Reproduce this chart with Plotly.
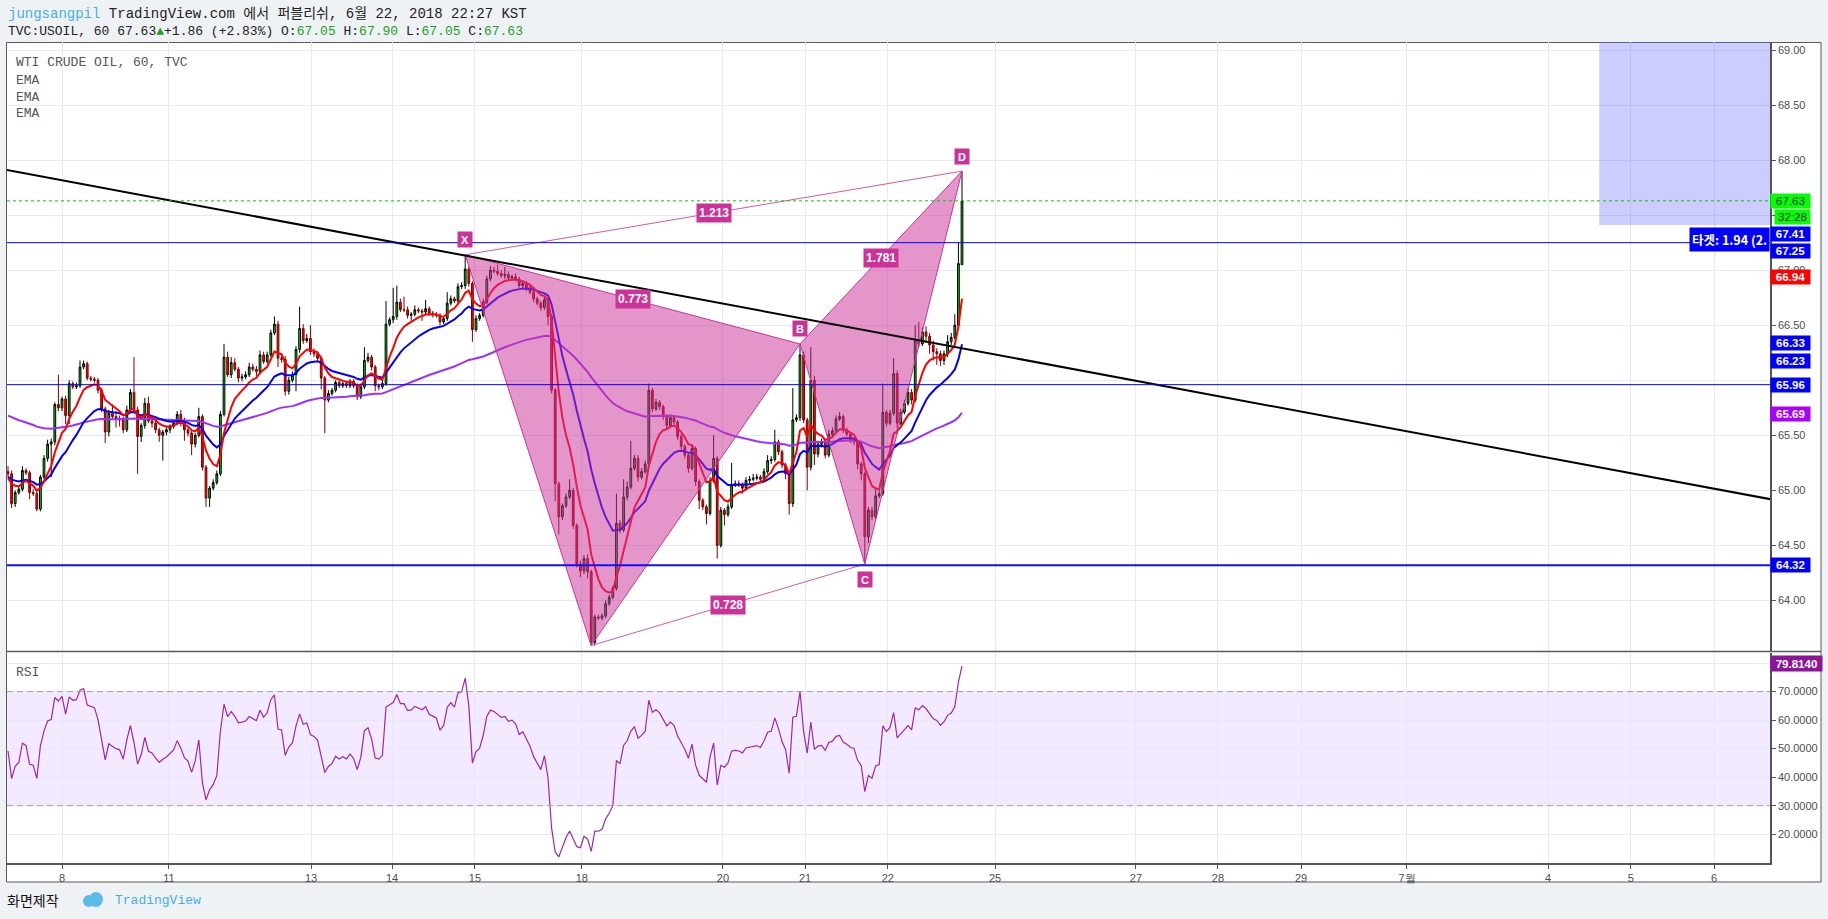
import plotly.graph_objects as go

# ---------------- data ----------------
first_open = 65.17
close_a = [65.15, 64.88, 64.98, 65.01, 65.18, 65.16, 64.98, 64.97, 64.83, 65.12,
           65.29, 65.42, 65.44, 65.78, 65.75, 65.83, 65.68, 65.97, 65.94, 65.95,
           66.12, 66.15, 66.02, 66.01, 66.00, 65.91, 65.74, 65.53, 65.70, 65.67,
           65.65, 65.64, 65.55, 65.73, 65.89, 65.73, 65.49, 65.59, 65.79, 65.63,
           65.61, 65.55, 65.50, 65.53, 65.55, 65.58, 65.61, 65.69, 65.63, 65.55,
           65.52, 65.42, 65.50, 65.67, 65.21, 64.93, 65.02, 65.07, 65.15, 65.69,
           66.21, 66.05, 66.16, 66.10, 66.02, 66.03, 66.05, 66.12, 66.10, 66.08]
close_b = [66.23, 66.17, 66.23, 66.43, 66.51, 66.20, 66.19, 65.90, 66.00, 66.05,
           66.28, 66.47, 66.36, 66.38, 66.26, 66.24, 66.20, 66.02, 65.82, 65.88,
           65.91, 65.98, 65.95, 65.97, 65.95, 65.99, 65.95, 65.85, 65.94, 66.18,
           66.21, 66.12, 65.95, 65.94, 65.97, 66.51, 66.55, 66.58, 66.71, 66.64,
           66.64, 66.59, 66.60, 66.64, 66.63, 66.62, 66.65, 66.61, 66.60, 66.59,
           66.53, 66.56, 66.70, 66.74, 66.72, 66.85, 66.86, 67.01, 66.88, 66.46]
close_c = [66.56, 66.59, 66.71, 66.92, 67.00, 66.99, 66.97, 66.95, 66.96, 66.93,
           66.94, 66.92, 66.86, 66.88, 66.84, 66.80, 66.74, 66.70, 66.66, 66.73,
           66.58, 65.91, 65.06, 64.76, 64.86, 64.94, 65.00, 64.68, 64.33, 64.27,
           64.38, 64.26, 63.62, 63.85, 63.84, 63.86, 63.97, 64.03, 64.11, 64.70,
           64.64, 64.94, 65.03, 65.20, 65.29, 65.12, 65.17, 65.24, 65.91, 65.74,
           65.80, 65.76, 65.67, 65.59, 65.66, 65.62, 65.49, 65.40, 65.32, 65.20,
           65.38, 65.08, 64.91, 64.85, 64.79, 65.09, 65.29, 64.50, 64.82, 64.78,
           64.85, 65.05, 65.06, 65.05, 65.02, 65.09, 65.10, 65.11, 65.12, 65.10,
           65.17, 65.27, 65.28, 65.44, 65.35, 65.23, 65.15, 64.88, 65.64, 65.66,
           66.23, 65.64, 65.21, 66.00, 65.33, 65.42, 65.44, 65.32, 65.51, 65.54,
           65.65, 65.67, 65.55, 65.51, 65.46, 65.44, 65.24, 65.15, 64.58, 64.82,
           64.76, 64.95, 64.97, 65.71, 65.61, 65.70, 66.06, 65.61, 65.71, 65.79,
           65.89, 65.82, 66.36, 66.33, 66.44, 66.40, 66.32, 66.26, 66.24, 66.18,
           66.24, 66.35, 66.39, 66.50, 67.06, 67.63]
last_open = 67.05

upper_wick_a = [5, 3, 2, 2, 4, 2, 2, 3, 2, 2, 3, 4, 3, 2, 27, 2, 3, 3, 2, 3,
                6, 3, 2, 2, 2, 2, 2, 2, 3, 8, 5, 3, 3, 4, 3, 32, 3, 2, 5, 6,
                3, 2, 2, 2, 3, 2, 3, 3, 4, 3, 2, 3, 2, 8, 2, 2, 2, 3, 3, 3,
                12, 5, 5, 4, 2, 3, 3, 4, 3, 3]
lower_wick_a = [3, 4, 3, 2, 2, 2, 6, 2, 2, 2, 2, 3, 30, 3, 3, 3, 8, 8, 2, 2,
                2, 2, 2, 2, 2, 3, 3, 10, 4, 3, 8, 6, 3, 2, 2, 2, 34, 5, 3, 2,
                4, 3, 6, 23, 3, 3, 2, 2, 5, 10, 3, 10, 3, 2, 3, 8, 8, 2, 2, 2,
                2, 2, 3, 2, 4, 3, 2, 2, 2, 4]
upper_wick_b = [4, 3, 3, 3, 7, 3, 2, 3, 3, 3, 3, 20, 4, 4, 12, 3, 2, 2, 2, 3,
                2, 2, 2, 2, 2, 2, 2, 2, 3, 12, 4, 2, 2, 2, 3, 21, 2, 26, 15, 3,
                12, 3, 2, 4, 2, 2, 8, 2, 2, 2, 2, 2, 10, 3, 2, 3, 3, 13, 2, 2]
lower_wick_b = [3, 2, 2, 2, 2, 8, 3, 4, 3, 2, 15, 3, 3, 2, 3, 3, 3, 10, 30, 2,
                2, 2, 2, 2, 2, 2, 2, 3, 2, 2, 2, 3, 5, 3, 2, 2, 2, 3, 3, 2,
                2, 3, 5, 2, 2, 8, 2, 2, 3, 2, 3, 2, 2, 2, 2, 2, 2, 3, 3, 11]
upper_wick_c = [3, 2, 3, 3, 4, 3, 6, 3, 7, 3, 2, 3, 2, 3, 2, 2, 2, 2, 2, 3,
                2, 2, 2, 2, 2, 3, 10, 2, 2, 3, 3, 4, 2, 2, 2, 2, 3, 2, 2, 27,
                3, 16, 5, 25, 3, 3, 3, 3, 6, 2, 3, 2, 2, 2, 3, 2, 2, 2, 2, 2,
                3, 2, 2, 2, 2, 3, 21, 2, 3, 2, 3, 20, 3, 3, 2, 3, 3, 4, 3, 2,
                3, 5, 3, 11, 2, 2, 2, 2, 29, 3, 10, 3, 2, 30, 4, 3, 3, 2, 4, 3,
                3, 4, 2, 2, 2, 2, 2, 2, 2, 3, 3, 6, 3, 26, 2, 3, 14, 3, 3, 3,
                4, 3, 14, 17, 4, 5, 3, 4, 3, 3, 3, 6, 4, 10, 19, 27]
lower_wick_c = [2, 2, 2, 2, 2, 2, 2, 2, 3, 2, 2, 2, 2, 2, 3, 2, 3, 2, 3, 2,
                8, 3, 16, 16, 3, 2, 2, 3, 3, 6, 3, 6, 3, 3, 2, 2, 2, 2, 2, 2,
                3, 2, 3, 2, 2, 4, 2, 2, 2, 3, 2, 3, 3, 3, 2, 2, 3, 3, 3, 4,
                2, 4, 8, 3, 10, 2, 2, 12, 2, 10, 2, 2, 2, 2, 5, 2, 3, 2, 2, 3,
                2, 2, 3, 2, 3, 3, 5, 10, 3, 2, 3, 3, 21, 3, 10, 3, 3, 3, 2, 2,
                2, 2, 3, 2, 3, 3, 5, 6, 25, 6, 3, 2, 2, 2, 3, 2, 2, 10, 2, 2,
                2, 4, 2, 3, 2, 6, 8, 8, 10, 5, 4, 3, 3, 2, 2, 0]

# EMA periods and the EMA values just before the first visible bar
ema_fast_period, ema_mid_period, ema_slow_period = 8, 20, 100
ema_fast_seed, ema_mid_seed, ema_slow_seed = 65.10, 65.12, 65.69
rsi_period = 14
rsi_seed_gain, rsi_seed_loss = 0.045, 0.045

# day boundaries on the bar axis and their labels
day_tick_bars = [15.0, 44.7, 84.2, 106.7, 129.7, 159.4, 198.6, 221.4, 244.4, 274.2,
                 313.3, 336.1, 359.2, 388.6, 427.8, 450.8, 473.9]
day_tick_labels = ['8', '11', '13', '14', '15', '18', '20', '21', '22', '25',
                   '27', '28', '29', '7월', '4', '5', '6']

# price-axis ticks (labels hidden behind value tags are left blank)
price_ticks = [64.0, 64.5, 65.0, 65.5, 66.0, 66.5, 67.0, 67.5, 68.0, 68.5, 69.0]
price_tick_labels = ['64.00', '64.50', '65.00', '65.50', '', '66.50', '67.00', '',
                     '68.00', '68.50', '69.00']

# harmonic XABCD pattern
pattern_names = ['X', 'A', 'B', 'C', 'D']
pattern_bars = [127, 162, 220, 238, 265]
pattern_prices = [67.14, 63.59, 66.33, 64.33, 67.90]
ratio_xb, ratio_ac, ratio_bd, ratio_xd = '0.773', '0.728', '1.781', '1.213'

# drawn trend line (two anchors), horizontal levels, target zone
trend_bars = [-0.3, 489.5]
trend_prices = [67.91, 64.92]
level_thin = [67.25, 65.96]
level_thick = 64.32
last_price = 67.63
target_bar_start = 442
target_low, target_high = 67.41, 69.6
target_text = '타겟: 1.94 (2.'

# price-axis value tags
tag_values = [67.63, 67.41, 67.25, 66.94, 66.33, 66.23, 65.96, 65.69, 64.32]
countdown_text = '32:28'
rsi_last_value = 79.8140
rsi_ticks = [20, 30, 40, 50, 60, 70, 80]

x_range = [-0.28, 489.44]
price_range = [63.536, 69.073]
rsi_range = [9.9, 83.7]

# ---------------- derived series ----------------
closes = close_a + close_b + close_c
upper_w = upper_wick_a + upper_wick_b + upper_wick_c
lower_w = lower_wick_a + lower_wick_b + lower_wick_c
n = len(closes)
bars = list(range(n))
opens = [first_open] + closes[:-1]
opens[-1] = last_open
highs = [max(o, c) + u / 100 for o, c, u in zip(opens, closes, upper_w)]
lows = [min(o, c) - l / 100 for o, c, l in zip(opens, closes, lower_w)]


def ema(vals, period, seed):
    k = 2 / (period + 1)
    e = seed
    out = []
    for v in vals:
        e = e + k * (v - e)
        out.append(e)
    return out


def rsi(vals, period, ag, al, prev):
    out = []
    for v in vals:
        d = v - prev
        prev = v
        ag = (ag * (period - 1) + max(d, 0)) / period
        al = (al * (period - 1) + max(-d, 0)) / period
        out.append(100 - 100 / (1 + ag / al) if al > 0 else 100)
    return out


ema_fast = ema(closes, ema_fast_period, ema_fast_seed)
ema_mid = ema(closes, ema_mid_period, ema_mid_seed)
ema_slow = ema(closes, ema_slow_period, ema_slow_seed)
rsi_vals = rsi(closes, rsi_period, rsi_seed_gain, rsi_seed_loss, first_open)

# ---------------- layout helpers ----------------
W, H = 1828, 919
ML, MR, MT, MB = 7, 58, 42, 56
PW, PH = W - ML - MR, H - MT - MB


def px_x(px):
    return (px - ML) / PW


def px_y(py):
    return (H - MB - py) / PH


main_dom = [px_y(651.5), 1.0]
rsi_dom = [0.0, px_y(652.5)]

MONO = 'Liberation Mono, DejaVu Sans Mono, monospace'
SANS = 'Liberation Sans, Arial, sans-serif'
PINK = '#cc3399'

fig = go.Figure()

fig.add_trace(go.Candlestick(
    x=bars, open=opens, high=highs, low=lows, close=closes,
    increasing=dict(fillcolor='#00d800', line=dict(color='#000000', width=1)),
    decreasing=dict(fillcolor='#ff0000', line=dict(color='#7a0000', width=1)),
    whiskerwidth=0, xaxis='x', yaxis='y', hoverinfo='skip', showlegend=False))

fig.add_trace(go.Scatter(x=bars, y=ema_slow, mode='lines',
                         line=dict(color='#9b30ff', width=2), xaxis='x', yaxis='y'))
fig.add_trace(go.Scatter(x=bars, y=ema_mid, mode='lines',
                         line=dict(color='#0000ff', width=2), xaxis='x', yaxis='y'))
fig.add_trace(go.Scatter(x=bars, y=ema_fast, mode='lines',
                         line=dict(color='#ff0000', width=2), xaxis='x', yaxis='y'))

# pattern triangles XAB and BCD
for idx in ([0, 1, 2, 0], [2, 3, 4, 2]):
    fig.add_trace(go.Scatter(
        x=[pattern_bars[i] for i in idx], y=[pattern_prices[i] for i in idx],
        mode='lines', fill='toself', fillcolor='rgba(204,51,153,0.52)',
        line=dict(color=PINK, width=1), xaxis='x', yaxis='y'))
for a, b in ((0, 4), (1, 3)):
    fig.add_trace(go.Scatter(
        x=[pattern_bars[a], pattern_bars[b]], y=[pattern_prices[a], pattern_prices[b]],
        mode='lines', line=dict(color='#d558a8', width=1), xaxis='x', yaxis='y'))

fig.add_trace(go.Scatter(x=trend_bars, y=trend_prices, mode='lines',
                         line=dict(color='#000000', width=2), xaxis='x', yaxis='y'))

fig.add_trace(go.Scatter(x=bars, y=rsi_vals, mode='lines',
                         line=dict(color='#9c27b0', width=1.2), xaxis='x', yaxis='y2'))

shapes = []
shapes.append(dict(type='rect', xref='paper', yref='paper', x0=px_x(6.5), x1=px_x(1821),
                   y0=px_y(882), y1=px_y(42.5), fillcolor='#ffffff',
                   line=dict(color='#5a5a5a', width=1), layer='below'))
shapes.append(dict(type='line', xref='paper', yref='paper', x0=px_x(6.5), x1=px_x(1821),
                   y0=px_y(651.5), y1=px_y(651.5), line=dict(color='#5a5a5a', width=1.5)))
shapes.append(dict(type='rect', xref='paper', yref='y2', x0=0, x1=1, y0=30, y1=70,
                   fillcolor='rgba(160,90,255,0.13)', line=dict(width=0), layer='below'))
for lv in (30, 70):
    shapes.append(dict(type='line', xref='paper', yref='y2', x0=0, x1=1, y0=lv, y1=lv,
                       line=dict(color='#a99aae', width=1, dash='6px,4px')))
shapes.append(dict(type='rect', xref='x', yref='y', x0=target_bar_start, x1=x_range[1],
                   y0=target_low, y1=target_high, fillcolor='rgba(100,100,255,0.33)',
                   line=dict(width=0), layer='above'))
for lv in level_thin:
    shapes.append(dict(type='line', xref='paper', yref='y', x0=0, x1=1, y0=lv, y1=lv,
                       line=dict(color='#0000ff', width=1)))
shapes.append(dict(type='line', xref='paper', yref='y', x0=0, x1=1, y0=level_thick,
                   y1=level_thick, line=dict(color='#1010ff', width=2)))
shapes.append(dict(type='line', xref='paper', yref='y', x0=0, x1=1, y0=last_price,
                   y1=last_price, line=dict(color='#00cc00', width=1, dash='dot')))
shapes.append(dict(type='circle', xref='paper', yref='paper', x0=px_x(83), x1=px_x(95),
                   y0=px_y(907), y1=px_y(895), fillcolor='#5bbbe8', line=dict(width=0)))
shapes.append(dict(type='circle', xref='paper', yref='paper', x0=px_x(89), x1=px_x(103),
                   y0=px_y(907), y1=px_y(892), fillcolor='#5bbbe8', line=dict(width=0)))

ann = []


def tag(value, text, bg, fg, yref='y', yshift=0, width=37, xshift=0, height=12):
    ann.append(dict(x=1, xref='paper', xanchor='left', y=value, yref=yref,
                    yanchor='middle', yshift=yshift, xshift=xshift, text=text,
                    showarrow=False, bgcolor=bg, width=width, height=height, borderpad=1,
                    font=dict(family=SANS, size=11.5, color=fg)))


tag_style = [('#00ff00', '#1a1a1a', 0), ('#0000ff', '#ffffff', -9), ('#0000ff', '#ffffff', -8),
             ('#ff0000', '#ffffff', 0), ('#0000ff', '#ffffff', 1), ('#0000ff', '#ffffff', -6),
             ('#0000ff', '#ffffff', 0), ('#aa00ff', '#ffffff', 0), ('#0000ff', '#ffffff', 0)]
for v, (bg, fg, ys) in zip(tag_values, tag_style):
    tag(v, '<b>%.2f</b>' % v if fg == '#ffffff' else '%.2f' % v, bg, fg, yshift=ys)
tag(last_price, countdown_text, '#00ff00', '#1a1a1a', yshift=-16, width=33, xshift=4)
tag(rsi_last_value, '<b>%.4f</b>' % rsi_last_value, '#8e1599', '#ffffff', yref='y2', width=49,
    height=13)

ann.append(dict(x=1, xref='paper', xanchor='right', y=target_low, yref='y', yanchor='top',
                yshift=-2, text='<b>' + target_text + '</b>', showarrow=False,
                bgcolor='#0000ff', borderpad=2,
                font=dict(family='Noto Sans CJK KR, ' + SANS, size=12.5, color='#ffffff')))

letter_shift = {'X': 15, 'A': -15, 'B': 15, 'C': -15, 'D': 15}
for name, b, p in zip(pattern_names, pattern_bars, pattern_prices):
    if name == 'A':
        continue
    ann.append(dict(x=b, y=p, xref='x', yref='y', yshift=letter_shift[name], text='<b>%s</b>' % name,
                    showarrow=False, bgcolor=PINK, width=12, height=13, borderpad=1,
                    font=dict(family=SANS, size=11, color='#ffffff')))
for (a, b), txt in (((0, 2), ratio_xb), ((1, 3), ratio_ac), ((2, 4), ratio_bd), ((0, 4), ratio_xd)):
    ann.append(dict(x=(pattern_bars[a] + pattern_bars[b]) / 2,
                    y=(pattern_prices[a] + pattern_prices[b]) / 2, xref='x', yref='y',
                    text='<b>%s</b>' % txt, showarrow=False, bgcolor=PINK, borderpad=2,
                    font=dict(family=SANS, size=12, color='#ffffff')))

GREEN = '#1ea01e'
ann.append(dict(x=px_x(6), y=px_y(14), xref='paper', yref='paper', xanchor='left', yanchor='middle',
                showarrow=False, font=dict(family=MONO + ', Noto Sans CJK KR', size=14, color='#222222'),
                text='<span style="color:#45aee8">jungsangpil</span> TradingView.com 에서 퍼블리쉬, 6월 22, 2018 22:27 KST'))
ann.append(dict(x=px_x(6), y=px_y(32), xref='paper', yref='paper', xanchor='left', yanchor='middle',
                showarrow=False, font=dict(family=MONO, size=13, color='#222222'),
                text=('TVC:USOIL, 60 67.63<span style="color:%s">▲</span>+1.86 (+2.83%%) '
                      'O:<span style="color:%s">67.05</span> H:<span style="color:%s">67.90</span> '
                      'L:<span style="color:%s">67.05</span> C:<span style="color:%s">67.63</span>')
                % (GREEN, GREEN, GREEN, GREEN, GREEN)))
for i, t in enumerate(['WTI CRUDE OIL, 60, TVC', 'EMA', 'EMA', 'EMA']):
    ann.append(dict(x=px_x(14), y=px_y(63 + 17 * i), xref='paper', yref='paper', xanchor='left',
                    yanchor='middle', showarrow=False, text=t,
                    font=dict(family=MONO, size=13, color='#555555')))
ann.append(dict(x=px_x(14), y=px_y(672), xref='paper', yref='paper', xanchor='left',
                yanchor='middle', showarrow=False, text='RSI',
                font=dict(family=MONO, size=13, color='#555555')))
ann.append(dict(x=px_x(5), y=px_y(900), xref='paper', yref='paper', xanchor='left',
                yanchor='middle', showarrow=False, text='화면제작',
                font=dict(family='Noto Sans CJK KR', size=14, color='#111111')))
ann.append(dict(x=px_x(113), y=px_y(900), xref='paper', yref='paper', xanchor='left',
                yanchor='middle', showarrow=False, text='TradingView',
                font=dict(family=MONO, size=13, color='#45aee8')))

GRID = '#e2ebf1'
axis_font = dict(family=SANS, size=11, color='#4d4d4d')
fig.update_layout(
    width=W, height=H, margin=dict(l=ML, r=MR, t=MT, b=MB, pad=0),
    paper_bgcolor='#eff2f5', plot_bgcolor='#ffffff', showlegend=False,
    hovermode=False,
    xaxis=dict(domain=[0, 1], anchor='y2', range=x_range, tickmode='array',
               tickvals=day_tick_bars, ticktext=day_tick_labels, showgrid=True,
               gridcolor=GRID, gridwidth=1, zeroline=False, showline=True,
               linecolor='#555555', linewidth=1.5, ticks='outside', ticklen=4,
               tickcolor='#555555', tickfont=axis_font, rangeslider=dict(visible=False)),
    yaxis=dict(domain=main_dom, anchor='x', side='right', range=price_range,
               tickmode='array', tickvals=price_ticks, ticktext=price_tick_labels,
               showgrid=True, gridcolor=GRID,
               zeroline=False, showline=True, linecolor='#555555', linewidth=1.5,
               ticks='outside', ticklen=4, tickcolor='#555555', tickfont=axis_font),
    yaxis2=dict(domain=rsi_dom, anchor='x', side='right', range=rsi_range,
                tickmode='array', tickvals=rsi_ticks,
                ticktext=['%.4f' % t if t < 80 else '' for t in rsi_ticks],
                showgrid=True, gridcolor=GRID,
                zeroline=False, showline=True, linecolor='#555555', linewidth=1.5,
                ticks='outside', ticklen=4, tickcolor='#555555', tickfont=axis_font),
    shapes=shapes, annotations=ann,
)

fig.write_html("out.html")
